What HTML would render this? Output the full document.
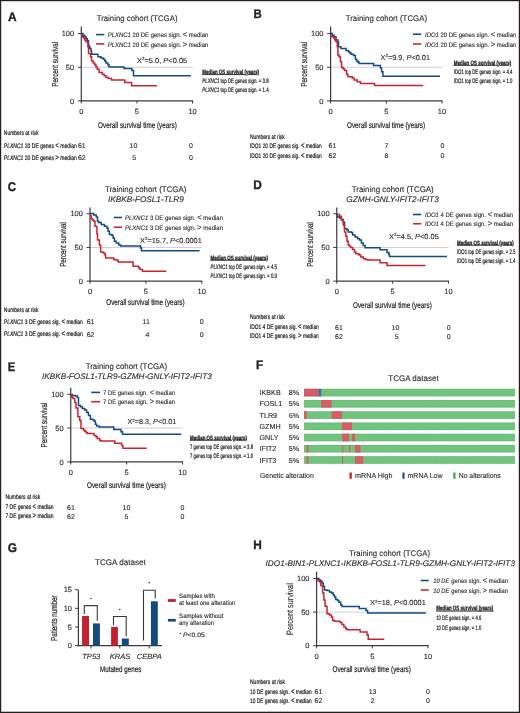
<!DOCTYPE html>
<html><head><meta charset="utf-8"><style>
html,body{margin:0;padding:0;background:#fff;}
body{width:520px;height:713px;overflow:hidden;}
svg{display:block;font-family:"Liberation Sans",sans-serif;will-change:transform;text-rendering:geometricPrecision;filter:blur(0.3px);}
</style></head><body>
<svg width="520" height="713" viewBox="0 0 520 713" fill="#231f20">
<defs><pattern id="stri" x="304" y="0" width="1.72" height="10" patternUnits="userSpaceOnUse"><rect x="0" y="0" width="0.5" height="10" fill="rgba(0,0,0,0.035)"/></pattern></defs>
<rect x="0" y="0" width="520" height="713" fill="#fff"/>
<text transform="translate(8.10 20.50) scale(0.09451 0.10000)" font-size="126.00" font-weight="bold" stroke="#231f20" stroke-width="3.50">A</text>
<text transform="translate(96.70 21.10) scale(0.09516 0.10000)" font-size="82.00" fill="#2b2b2b" stroke="#2b2b2b" stroke-width="1.20">Training cohort (TCGA)</text>
<line x1="81.30" y1="67.25" x2="192.60" y2="67.25" stroke="#cfcfcf" stroke-width="1"/>
<line x1="81.30" y1="26.50" x2="81.30" y2="101.50" stroke="#3a3a3a" stroke-width="1.2"/>
<line x1="77.80" y1="33.60" x2="81.30" y2="33.60" stroke="#3a3a3a" stroke-width="1"/>
<line x1="77.80" y1="67.25" x2="81.30" y2="67.25" stroke="#3a3a3a" stroke-width="1"/>
<line x1="77.80" y1="100.90" x2="81.30" y2="100.90" stroke="#3a3a3a" stroke-width="1"/>
<line x1="80.70" y1="100.90" x2="193.10" y2="100.90" stroke="#3a3a3a" stroke-width="1.3"/>
<line x1="81.30" y1="100.90" x2="81.30" y2="103.50" stroke="#3a3a3a" stroke-width="1"/>
<line x1="136.95" y1="100.90" x2="136.95" y2="103.50" stroke="#3a3a3a" stroke-width="1"/>
<line x1="192.60" y1="100.90" x2="192.60" y2="103.50" stroke="#3a3a3a" stroke-width="1"/>
<text transform="translate(74.20 36.20) scale(0.10000 0.10000)" font-size="75.00" text-anchor="end" fill="#2b2b2b" stroke="#2b2b2b" stroke-width="1.20">100</text>
<text transform="translate(74.20 69.85) scale(0.10000 0.10000)" font-size="75.00" text-anchor="end" fill="#2b2b2b" stroke="#2b2b2b" stroke-width="1.20">50</text>
<text transform="translate(74.20 103.50) scale(0.10000 0.10000)" font-size="75.00" text-anchor="end" fill="#2b2b2b" stroke="#2b2b2b" stroke-width="1.20">0</text>
<text transform="translate(81.30 113.70) scale(0.10000 0.10000)" font-size="75.00" text-anchor="middle" fill="#2b2b2b" stroke="#2b2b2b" stroke-width="1.20">0</text>
<text transform="translate(136.95 113.70) scale(0.10000 0.10000)" font-size="75.00" text-anchor="middle" fill="#2b2b2b" stroke="#2b2b2b" stroke-width="1.20">5</text>
<text transform="translate(192.60 113.70) scale(0.10000 0.10000)" font-size="75.00" text-anchor="middle" fill="#2b2b2b" stroke="#2b2b2b" stroke-width="1.20">10</text>
<text transform="translate(57.50 64.25) rotate(-90) scale(0.07239 0.10000)" font-size="87.00" text-anchor="middle" stroke="#231f20" stroke-width="2.20">Percent survival</text>
<line x1="96.10" y1="34.60" x2="104.30" y2="34.60" stroke="#134b84" stroke-width="1.6"/>
<line x1="96.10" y1="43.90" x2="104.30" y2="43.90" stroke="#c92333" stroke-width="1.6"/>
<text transform="translate(107.80 37.20) scale(0.09142 0.10000)" font-size="65.00" fill="#2b2b2b" stroke="#2b2b2b" stroke-width="1.20"><tspan font-style="italic">PLXNC1</tspan> 20 DE genes sign. <tspan font-size="82.00">&lt;</tspan> median</text>
<text transform="translate(107.80 46.50) scale(0.09142 0.10000)" font-size="65.00" fill="#2b2b2b" stroke="#2b2b2b" stroke-width="1.20"><tspan font-style="italic">PLXNC1</tspan> 20 DE genes sign. <tspan font-size="82.00">&gt;</tspan> median</text>
<text transform="translate(136.90 62.75) scale(0.10096 0.10000)" font-size="74.00" fill="#2b2b2b" stroke="#2b2b2b" stroke-width="1.20">X<tspan font-size="45.00" dy="-26.00">2</tspan><tspan dy="26.00">=5.0, </tspan><tspan font-style="italic">P</tspan>&lt;0.05</text>
<path d="M81.25 33.60H83.00V35.17H84.75V36.75H86.00V38.62H87.25V40.50H88.50V46.10H89.75V48.60H91.00V51.10H91.60V54.25H96.00V54.25H97.90V56.75H101.00V58.00H103.50V59.25H104.75V61.12H106.00V63.00H107.90V64.90H109.10V67.10H123.50V67.10H124.10V68.60H129.75V68.60H131.90V70.50H133.50V75.75H190.90" fill="none" stroke="#134b84" stroke-width="1.5" stroke-linejoin="miter"/>
<path d="M81.25 35.50H82.38V36.75H83.50V38.00H84.75V39.88H86.00V41.75H87.90V46.75H88.50V53.60H90.40V56.75H91.60V61.10H93.17V63.00H94.75V64.90H96.00V67.08H97.25V69.25H99.10V72.40H102.25V74.25H104.12V75.83H106.00V77.40H108.50V78.60H111.60V79.90H124.10V79.90H124.75V82.60H131.00V82.60H131.60V85.75H156.90" fill="none" stroke="#c92333" stroke-width="1.5" stroke-linejoin="miter"/>
<text transform="translate(202.30 73.90) scale(0.07053 0.10000)" font-size="63.00" font-weight="bold" text-decoration="underline" stroke="#231f20" stroke-width="3.00">Median OS survival (years)</text>
<text transform="translate(202.30 83.40) scale(0.06849 0.10000)" font-size="64.00" stroke="#231f20" stroke-width="2.20"><tspan font-style="italic">PLXNC1</tspan> top DE genes sign. = 3.8</text>
<text transform="translate(202.30 92.30) scale(0.06849 0.10000)" font-size="64.00" stroke="#231f20" stroke-width="2.20"><tspan font-style="italic">PLXNC1</tspan> top DE genes sign. = 1.4</text>
<text transform="translate(98.05 127.80) scale(0.07561 0.10000)" font-size="84.00" stroke="#231f20" stroke-width="2.20">Overall survival time (years)</text>
<text transform="translate(3.85 135.00) scale(0.07487 0.10000)" font-size="66.00" stroke="#231f20" stroke-width="2.20">Numbers at risk</text>
<text transform="translate(3.85 147.50) scale(0.07622 0.10000)" font-size="66.00" stroke="#231f20" stroke-width="2.20"><tspan font-style="italic">PLXNC1</tspan> 20 DE genes <tspan font-size="82.00">&lt;</tspan> median</text>
<text transform="translate(3.85 160.00) scale(0.07622 0.10000)" font-size="66.00" stroke="#231f20" stroke-width="2.20"><tspan font-style="italic">PLXNC1</tspan> 20 DE genes <tspan font-size="82.00">&gt;</tspan> median</text>
<text transform="translate(81.80 148.10) scale(0.10000 0.10000)" font-size="70.00" text-anchor="middle" fill="#2b2b2b" stroke="#2b2b2b" stroke-width="1.20">61</text>
<text transform="translate(81.80 160.00) scale(0.10000 0.10000)" font-size="70.00" text-anchor="middle" fill="#2b2b2b" stroke="#2b2b2b" stroke-width="1.20">62</text>
<text transform="translate(133.40 148.10) scale(0.10000 0.10000)" font-size="70.00" text-anchor="middle" fill="#2b2b2b" stroke="#2b2b2b" stroke-width="1.20">10</text>
<text transform="translate(134.10 160.00) scale(0.10000 0.10000)" font-size="70.00" text-anchor="middle" fill="#2b2b2b" stroke="#2b2b2b" stroke-width="1.20">5</text>
<text transform="translate(191.00 148.10) scale(0.10000 0.10000)" font-size="70.00" text-anchor="middle" fill="#2b2b2b" stroke="#2b2b2b" stroke-width="1.20">0</text>
<text transform="translate(191.00 160.00) scale(0.10000 0.10000)" font-size="70.00" text-anchor="middle" fill="#2b2b2b" stroke="#2b2b2b" stroke-width="1.20">0</text>
<text transform="translate(253.60 18.20) scale(0.09121 0.10000)" font-size="126.00" font-weight="bold" stroke="#231f20" stroke-width="3.50">B</text>
<text transform="translate(345.75 21.10) scale(0.09569 0.10000)" font-size="82.00" fill="#2b2b2b" stroke="#2b2b2b" stroke-width="1.20">Training cohort (TCGA)</text>
<line x1="330.60" y1="67.25" x2="442.00" y2="67.25" stroke="#cfcfcf" stroke-width="1"/>
<line x1="330.60" y1="26.50" x2="330.60" y2="101.50" stroke="#3a3a3a" stroke-width="1.2"/>
<line x1="327.10" y1="33.60" x2="330.60" y2="33.60" stroke="#3a3a3a" stroke-width="1"/>
<line x1="327.10" y1="67.25" x2="330.60" y2="67.25" stroke="#3a3a3a" stroke-width="1"/>
<line x1="327.10" y1="100.90" x2="330.60" y2="100.90" stroke="#3a3a3a" stroke-width="1"/>
<line x1="330.00" y1="100.90" x2="442.50" y2="100.90" stroke="#3a3a3a" stroke-width="1.3"/>
<line x1="330.60" y1="100.90" x2="330.60" y2="103.50" stroke="#3a3a3a" stroke-width="1"/>
<line x1="386.30" y1="100.90" x2="386.30" y2="103.50" stroke="#3a3a3a" stroke-width="1"/>
<line x1="442.00" y1="100.90" x2="442.00" y2="103.50" stroke="#3a3a3a" stroke-width="1"/>
<text transform="translate(323.50 36.20) scale(0.10000 0.10000)" font-size="75.00" text-anchor="end" fill="#2b2b2b" stroke="#2b2b2b" stroke-width="1.20">100</text>
<text transform="translate(323.50 69.85) scale(0.10000 0.10000)" font-size="75.00" text-anchor="end" fill="#2b2b2b" stroke="#2b2b2b" stroke-width="1.20">50</text>
<text transform="translate(323.50 103.50) scale(0.10000 0.10000)" font-size="75.00" text-anchor="end" fill="#2b2b2b" stroke="#2b2b2b" stroke-width="1.20">0</text>
<text transform="translate(330.60 113.70) scale(0.10000 0.10000)" font-size="75.00" text-anchor="middle" fill="#2b2b2b" stroke="#2b2b2b" stroke-width="1.20">0</text>
<text transform="translate(386.30 113.70) scale(0.10000 0.10000)" font-size="75.00" text-anchor="middle" fill="#2b2b2b" stroke="#2b2b2b" stroke-width="1.20">5</text>
<text transform="translate(442.00 113.70) scale(0.10000 0.10000)" font-size="75.00" text-anchor="middle" fill="#2b2b2b" stroke="#2b2b2b" stroke-width="1.20">10</text>
<text transform="translate(306.75 64.25) rotate(-90) scale(0.07239 0.10000)" font-size="87.00" text-anchor="middle" stroke="#231f20" stroke-width="2.20">Percent survival</text>
<line x1="413.00" y1="34.25" x2="421.25" y2="34.25" stroke="#134b84" stroke-width="1.6"/>
<line x1="413.00" y1="44.00" x2="421.25" y2="44.00" stroke="#c92333" stroke-width="1.6"/>
<text transform="translate(425.00 36.85) scale(0.09142 0.10000)" font-size="65.00" fill="#2b2b2b" stroke="#2b2b2b" stroke-width="1.20"><tspan font-style="italic">IDO1</tspan> 20 DE genes sign. <tspan font-size="82.00">&lt;</tspan> median</text>
<text transform="translate(425.00 46.60) scale(0.09142 0.10000)" font-size="65.00" fill="#2b2b2b" stroke="#2b2b2b" stroke-width="1.20"><tspan font-style="italic">IDO1</tspan> 20 DE genes sign. <tspan font-size="82.00">&gt;</tspan> median</text>
<text transform="translate(380.50 59.60) scale(0.09935 0.10000)" font-size="74.00" fill="#2b2b2b" stroke="#2b2b2b" stroke-width="1.20">X<tspan font-size="45.00" dy="-26.00">2</tspan><tspan dy="26.00">=9.9, </tspan><tspan font-style="italic">P</tspan>&lt;0.01</text>
<path d="M330.60 33.60H332.35V35.17H334.10V36.75H336.00V39.90H337.90V41.75H338.50V46.75H341.00V48.60H344.75V48.60H346.00V50.50H348.50V51.75H349.75V53.00H351.00V54.25H353.50V55.50H355.40V59.25H356.60V61.10H357.85V62.25H359.10V63.40H372.90V63.40H373.50V65.50H379.50V65.50H380.40V68.00H381.60V71.75H382.90V76.30H440.00" fill="none" stroke="#134b84" stroke-width="1.5" stroke-linejoin="miter"/>
<path d="M330.60 35.50H332.05V36.75H333.50V38.00H334.75V39.88H336.00V41.75H337.25V46.75H337.90V54.90H339.10V56.75H340.40V61.75H341.60V67.40H343.18V68.95H344.75V70.50H346.60V74.25H347.90V76.75H352.25V78.00H354.10V79.90H357.25V81.75H360.40V83.40H374.10V83.40H374.50V85.50H423.25" fill="none" stroke="#c92333" stroke-width="1.5" stroke-linejoin="miter"/>
<text transform="translate(453.75 64.70) scale(0.07140 0.10000)" font-size="63.00" font-weight="bold" text-decoration="underline" stroke="#231f20" stroke-width="3.00">Median OS survival (years)</text>
<text transform="translate(453.75 74.40) scale(0.06754 0.10000)" font-size="64.00" stroke="#231f20" stroke-width="2.20">IDO1 top DE genes sign. = 4.4</text>
<text transform="translate(453.75 83.40) scale(0.06754 0.10000)" font-size="64.00" stroke="#231f20" stroke-width="2.20">IDO1 top DE genes sign. = 1.0</text>
<text transform="translate(347.00 127.80) scale(0.07494 0.10000)" font-size="84.00" stroke="#231f20" stroke-width="2.20">Overall survival time (years)</text>
<text transform="translate(250.00 138.60) scale(0.07531 0.10000)" font-size="66.00" stroke="#231f20" stroke-width="2.20">Numbers at risk</text>
<text transform="translate(250.00 148.20) scale(0.07346 0.10000)" font-size="66.00" stroke="#231f20" stroke-width="2.20">IDO1 20 DE genes sig. <tspan font-size="82.00">&lt;</tspan> median</text>
<text transform="translate(250.00 157.80) scale(0.07346 0.10000)" font-size="66.00" stroke="#231f20" stroke-width="2.20">IDO1 20 DE genes sig. <tspan font-size="82.00">&lt;</tspan> median</text>
<text transform="translate(332.50 148.20) scale(0.10000 0.10000)" font-size="70.00" text-anchor="middle" fill="#2b2b2b" stroke="#2b2b2b" stroke-width="1.20">61</text>
<text transform="translate(332.50 157.80) scale(0.10000 0.10000)" font-size="70.00" text-anchor="middle" fill="#2b2b2b" stroke="#2b2b2b" stroke-width="1.20">62</text>
<text transform="translate(386.40 148.20) scale(0.10000 0.10000)" font-size="70.00" text-anchor="middle" fill="#2b2b2b" stroke="#2b2b2b" stroke-width="1.20">7</text>
<text transform="translate(386.40 157.80) scale(0.10000 0.10000)" font-size="70.00" text-anchor="middle" fill="#2b2b2b" stroke="#2b2b2b" stroke-width="1.20">8</text>
<text transform="translate(442.50 148.20) scale(0.10000 0.10000)" font-size="70.00" text-anchor="middle" fill="#2b2b2b" stroke="#2b2b2b" stroke-width="1.20">0</text>
<text transform="translate(442.50 157.80) scale(0.10000 0.10000)" font-size="70.00" text-anchor="middle" fill="#2b2b2b" stroke="#2b2b2b" stroke-width="1.20">0</text>
<text transform="translate(7.80 190.60) scale(0.09121 0.10000)" font-size="126.00" font-weight="bold" stroke="#231f20" stroke-width="3.50">C</text>
<text transform="translate(105.00 191.60) scale(0.09569 0.10000)" font-size="82.00" fill="#2b2b2b" stroke="#2b2b2b" stroke-width="1.20">Training cohort (TCGA)</text>
<text transform="translate(108.00 201.60) scale(0.10014 0.10000)" font-size="82.00" font-style="italic" fill="#2b2b2b" stroke="#2b2b2b" stroke-width="1.20">IKBKB-FOSL1-TLR9</text>
<line x1="90.00" y1="247.43" x2="201.75" y2="247.43" stroke="#cfcfcf" stroke-width="1"/>
<line x1="90.00" y1="207.50" x2="90.00" y2="281.70" stroke="#3a3a3a" stroke-width="1.2"/>
<line x1="86.50" y1="213.75" x2="90.00" y2="213.75" stroke="#3a3a3a" stroke-width="1"/>
<line x1="86.50" y1="247.43" x2="90.00" y2="247.43" stroke="#3a3a3a" stroke-width="1"/>
<line x1="86.50" y1="281.10" x2="90.00" y2="281.10" stroke="#3a3a3a" stroke-width="1"/>
<line x1="89.40" y1="281.10" x2="202.25" y2="281.10" stroke="#3a3a3a" stroke-width="1.3"/>
<line x1="90.00" y1="281.10" x2="90.00" y2="283.70" stroke="#3a3a3a" stroke-width="1"/>
<line x1="145.88" y1="281.10" x2="145.88" y2="283.70" stroke="#3a3a3a" stroke-width="1"/>
<line x1="201.75" y1="281.10" x2="201.75" y2="283.70" stroke="#3a3a3a" stroke-width="1"/>
<text transform="translate(82.90 216.35) scale(0.10000 0.10000)" font-size="75.00" text-anchor="end" fill="#2b2b2b" stroke="#2b2b2b" stroke-width="1.20">100</text>
<text transform="translate(82.90 250.03) scale(0.10000 0.10000)" font-size="75.00" text-anchor="end" fill="#2b2b2b" stroke="#2b2b2b" stroke-width="1.20">50</text>
<text transform="translate(82.90 283.70) scale(0.10000 0.10000)" font-size="75.00" text-anchor="end" fill="#2b2b2b" stroke="#2b2b2b" stroke-width="1.20">0</text>
<text transform="translate(90.00 293.90) scale(0.10000 0.10000)" font-size="75.00" text-anchor="middle" fill="#2b2b2b" stroke="#2b2b2b" stroke-width="1.20">0</text>
<text transform="translate(145.88 293.90) scale(0.10000 0.10000)" font-size="75.00" text-anchor="middle" fill="#2b2b2b" stroke="#2b2b2b" stroke-width="1.20">5</text>
<text transform="translate(201.75 293.90) scale(0.10000 0.10000)" font-size="75.00" text-anchor="middle" fill="#2b2b2b" stroke="#2b2b2b" stroke-width="1.20">10</text>
<text transform="translate(66.00 244.43) rotate(-90) scale(0.07239 0.10000)" font-size="87.00" text-anchor="middle" stroke="#231f20" stroke-width="2.20">Percent survival</text>
<line x1="113.75" y1="217.50" x2="122.00" y2="217.50" stroke="#134b84" stroke-width="1.6"/>
<line x1="113.75" y1="227.25" x2="122.00" y2="227.25" stroke="#c92333" stroke-width="1.6"/>
<text transform="translate(125.00 220.10) scale(0.09218 0.10000)" font-size="65.00" fill="#2b2b2b" stroke="#2b2b2b" stroke-width="1.20"><tspan font-style="italic">PLXNC1</tspan> 3 DE genes sign. <tspan font-size="82.00">&lt;</tspan> median</text>
<text transform="translate(125.00 229.85) scale(0.09218 0.10000)" font-size="65.00" fill="#2b2b2b" stroke="#2b2b2b" stroke-width="1.20"><tspan font-style="italic">PLXNC1</tspan> 3 DE genes sign. <tspan font-size="82.00">&gt;</tspan> median</text>
<text transform="translate(140.00 242.50) scale(0.09933 0.10000)" font-size="74.00" fill="#2b2b2b" stroke="#2b2b2b" stroke-width="1.20">X<tspan font-size="45.00" dy="-26.00">2</tspan><tspan dy="26.00">=15.7, </tspan><tspan font-style="italic">P</tspan>&lt;0.0001</text>
<path d="M90.00 213.50H93.75V215.00H96.25V216.90H97.50V221.25H98.75V222.50H101.25V224.40H104.40V226.25H106.90V228.10H108.10V231.25H109.40V234.40H111.90V235.60H113.10V238.10H114.40V241.25H116.25V243.10H118.75V245.00H120.60V246.00H140.00V246.00H140.60V248.10H141.50V250.75H199.50" fill="none" stroke="#134b84" stroke-width="1.5" stroke-linejoin="miter"/>
<path d="M90.00 215.60H91.25V218.75H92.50V220.00H93.75V221.25H95.00V226.25H96.90V233.75H97.50V240.00H99.40V245.00H100.60V251.90H103.10V253.10H105.00V255.00H105.60V258.10H111.25V258.10H113.75V259.40H115.60V260.00H118.10V261.90H131.90V261.90H133.10V266.25H136.25V266.25H138.75V268.10H140.00V269.40H142.50V271.25H166.25" fill="none" stroke="#c92333" stroke-width="1.5" stroke-linejoin="miter"/>
<text transform="translate(210.50 259.50) scale(0.07140 0.10000)" font-size="63.00" font-weight="bold" text-decoration="underline" stroke="#231f20" stroke-width="3.00">Median OS survival (years)</text>
<text transform="translate(210.50 268.50) scale(0.06859 0.10000)" font-size="64.00" stroke="#231f20" stroke-width="2.20"><tspan font-style="italic">PLXNC1</tspan> top DE genes sign. = 4.5</text>
<text transform="translate(210.50 277.80) scale(0.06859 0.10000)" font-size="64.00" stroke="#231f20" stroke-width="2.20"><tspan font-style="italic">PLXNC1</tspan> top DE genes sign. = 0.9</text>
<text transform="translate(106.25 304.50) scale(0.07518 0.10000)" font-size="84.00" stroke="#231f20" stroke-width="2.20">Overall survival time (years)</text>
<text transform="translate(3.85 312.30) scale(0.07487 0.10000)" font-size="66.00" stroke="#231f20" stroke-width="2.20">Numbers at risk</text>
<text transform="translate(3.85 323.90) scale(0.07581 0.10000)" font-size="66.00" stroke="#231f20" stroke-width="2.20"><tspan font-style="italic">PLXNC1</tspan> 3 DE genes sig. <tspan font-size="82.00">&lt;</tspan> median</text>
<text transform="translate(3.85 336.10) scale(0.07581 0.10000)" font-size="66.00" stroke="#231f20" stroke-width="2.20"><tspan font-style="italic">PLXNC1</tspan> 3 DE genes sig. <tspan font-size="82.00">&lt;</tspan> median</text>
<text transform="translate(90.60 324.00) scale(0.10000 0.10000)" font-size="70.00" text-anchor="middle" fill="#2b2b2b" stroke="#2b2b2b" stroke-width="1.20">61</text>
<text transform="translate(90.60 337.00) scale(0.10000 0.10000)" font-size="70.00" text-anchor="middle" fill="#2b2b2b" stroke="#2b2b2b" stroke-width="1.20">62</text>
<text transform="translate(146.25 324.00) scale(0.10000 0.10000)" font-size="70.00" text-anchor="middle" fill="#2b2b2b" stroke="#2b2b2b" stroke-width="1.20">11</text>
<text transform="translate(147.50 337.00) scale(0.10000 0.10000)" font-size="70.00" text-anchor="middle" fill="#2b2b2b" stroke="#2b2b2b" stroke-width="1.20">4</text>
<text transform="translate(201.75 324.00) scale(0.10000 0.10000)" font-size="70.00" text-anchor="middle" fill="#2b2b2b" stroke="#2b2b2b" stroke-width="1.20">0</text>
<text transform="translate(201.75 337.00) scale(0.10000 0.10000)" font-size="70.00" text-anchor="middle" fill="#2b2b2b" stroke="#2b2b2b" stroke-width="1.20">0</text>
<text transform="translate(253.30 188.70) scale(0.09451 0.10000)" font-size="126.00" font-weight="bold" stroke="#231f20" stroke-width="3.50">D</text>
<text transform="translate(351.75 191.60) scale(0.09658 0.10000)" font-size="82.00" fill="#2b2b2b" stroke="#2b2b2b" stroke-width="1.20">Training cohort (TCGA)</text>
<text transform="translate(346.25 201.60) scale(0.10102 0.10000)" font-size="82.00" font-style="italic" fill="#2b2b2b" stroke="#2b2b2b" stroke-width="1.20">GZMH-GNLY-IFIT2-IFIT3</text>
<line x1="336.75" y1="247.43" x2="448.50" y2="247.43" stroke="#cfcfcf" stroke-width="1"/>
<line x1="336.75" y1="207.50" x2="336.75" y2="281.70" stroke="#3a3a3a" stroke-width="1.2"/>
<line x1="333.25" y1="213.75" x2="336.75" y2="213.75" stroke="#3a3a3a" stroke-width="1"/>
<line x1="333.25" y1="247.43" x2="336.75" y2="247.43" stroke="#3a3a3a" stroke-width="1"/>
<line x1="333.25" y1="281.10" x2="336.75" y2="281.10" stroke="#3a3a3a" stroke-width="1"/>
<line x1="336.15" y1="281.10" x2="449.00" y2="281.10" stroke="#3a3a3a" stroke-width="1.3"/>
<line x1="336.75" y1="281.10" x2="336.75" y2="283.70" stroke="#3a3a3a" stroke-width="1"/>
<line x1="392.62" y1="281.10" x2="392.62" y2="283.70" stroke="#3a3a3a" stroke-width="1"/>
<line x1="448.50" y1="281.10" x2="448.50" y2="283.70" stroke="#3a3a3a" stroke-width="1"/>
<text transform="translate(329.65 216.35) scale(0.10000 0.10000)" font-size="75.00" text-anchor="end" fill="#2b2b2b" stroke="#2b2b2b" stroke-width="1.20">100</text>
<text transform="translate(329.65 250.03) scale(0.10000 0.10000)" font-size="75.00" text-anchor="end" fill="#2b2b2b" stroke="#2b2b2b" stroke-width="1.20">50</text>
<text transform="translate(329.65 283.70) scale(0.10000 0.10000)" font-size="75.00" text-anchor="end" fill="#2b2b2b" stroke="#2b2b2b" stroke-width="1.20">0</text>
<text transform="translate(336.75 293.90) scale(0.10000 0.10000)" font-size="75.00" text-anchor="middle" fill="#2b2b2b" stroke="#2b2b2b" stroke-width="1.20">0</text>
<text transform="translate(392.62 293.90) scale(0.10000 0.10000)" font-size="75.00" text-anchor="middle" fill="#2b2b2b" stroke="#2b2b2b" stroke-width="1.20">5</text>
<text transform="translate(448.50 293.90) scale(0.10000 0.10000)" font-size="75.00" text-anchor="middle" fill="#2b2b2b" stroke="#2b2b2b" stroke-width="1.20">10</text>
<text transform="translate(313.00 244.43) rotate(-90) scale(0.07239 0.10000)" font-size="87.00" text-anchor="middle" stroke="#231f20" stroke-width="2.20">Percent survival</text>
<line x1="413.00" y1="214.50" x2="421.25" y2="214.50" stroke="#134b84" stroke-width="1.6"/>
<line x1="413.00" y1="223.75" x2="421.25" y2="223.75" stroke="#c92333" stroke-width="1.6"/>
<text transform="translate(425.00 217.10) scale(0.09174 0.10000)" font-size="65.00" fill="#2b2b2b" stroke="#2b2b2b" stroke-width="1.20"><tspan font-style="italic">IDO1</tspan> 4 DE genes sign. <tspan font-size="82.00">&lt;</tspan> median</text>
<text transform="translate(425.00 226.35) scale(0.09174 0.10000)" font-size="65.00" fill="#2b2b2b" stroke="#2b2b2b" stroke-width="1.20"><tspan font-style="italic">IDO1</tspan> 4 DE genes sign. <tspan font-size="82.00">&gt;</tspan> median</text>
<text transform="translate(389.00 238.70) scale(0.09986 0.10000)" font-size="74.00" fill="#2b2b2b" stroke="#2b2b2b" stroke-width="1.20">X<tspan font-size="45.00" dy="-26.00">2</tspan><tspan dy="26.00">=4.5, </tspan><tspan font-style="italic">P</tspan>&lt;0.05</text>
<path d="M336.75 213.75H337.00V216.90H339.50V218.10H341.40V219.40H343.25V221.90H344.50V228.75H347.00V230.00H348.25V231.90H351.40V232.50H352.60V235.00H355.10V236.90H357.60V238.75H359.50V240.00H361.40V243.10H363.25V245.60H365.10V247.75H378.90V247.75H380.10V249.75H385.75V249.75H387.00V252.50H388.90V254.40H389.50V256.60H447.00" fill="none" stroke="#134b84" stroke-width="1.5" stroke-linejoin="miter"/>
<path d="M336.75 214.50H339.50V216.25H341.40V220.00H343.25V225.00H344.50V231.90H345.75V236.25H347.00V241.25H348.25V245.00H349.50V246.25H350.75V247.50H352.60V249.40H354.50V251.90H355.75V253.75H358.90V255.00H360.75V256.90H363.25V258.75H365.75V259.40H367.60V260.00H379.50V260.00H380.10V262.75H386.40V262.75H387.00V265.60H425.50" fill="none" stroke="#c92333" stroke-width="1.5" stroke-linejoin="miter"/>
<text transform="translate(457.00 244.50) scale(0.07047 0.10000)" font-size="63.00" font-weight="bold" text-decoration="underline" stroke="#231f20" stroke-width="3.00">Median OS survival (years)</text>
<text transform="translate(457.00 254.00) scale(0.06725 0.10000)" font-size="64.00" stroke="#231f20" stroke-width="2.20">IDO1 top DE genes sign. = 2.5</text>
<text transform="translate(457.00 263.20) scale(0.06725 0.10000)" font-size="64.00" stroke="#231f20" stroke-width="2.20">IDO1 top DE genes sign. = 1.4</text>
<text transform="translate(353.00 307.70) scale(0.07566 0.10000)" font-size="84.00" stroke="#231f20" stroke-width="2.20">Overall survival time (years)</text>
<text transform="translate(250.00 319.20) scale(0.07531 0.10000)" font-size="66.00" stroke="#231f20" stroke-width="2.20">Numbers at risk</text>
<text transform="translate(250.00 329.00) scale(0.07319 0.10000)" font-size="66.00" stroke="#231f20" stroke-width="2.20">IDO1 4 DE genes sig. <tspan font-size="82.00">&lt;</tspan> median</text>
<text transform="translate(250.00 338.00) scale(0.07319 0.10000)" font-size="66.00" stroke="#231f20" stroke-width="2.20">IDO1 4 DE genes sig. <tspan font-size="82.00">&gt;</tspan> median</text>
<text transform="translate(339.00 329.50) scale(0.10000 0.10000)" font-size="70.00" text-anchor="middle" fill="#2b2b2b" stroke="#2b2b2b" stroke-width="1.20">61</text>
<text transform="translate(339.00 338.50) scale(0.10000 0.10000)" font-size="70.00" text-anchor="middle" fill="#2b2b2b" stroke="#2b2b2b" stroke-width="1.20">62</text>
<text transform="translate(395.50 329.50) scale(0.10000 0.10000)" font-size="70.00" text-anchor="middle" fill="#2b2b2b" stroke="#2b2b2b" stroke-width="1.20">10</text>
<text transform="translate(396.75 338.50) scale(0.10000 0.10000)" font-size="70.00" text-anchor="middle" fill="#2b2b2b" stroke="#2b2b2b" stroke-width="1.20">5</text>
<text transform="translate(448.75 329.50) scale(0.10000 0.10000)" font-size="70.00" text-anchor="middle" fill="#2b2b2b" stroke="#2b2b2b" stroke-width="1.20">0</text>
<text transform="translate(448.75 338.50) scale(0.10000 0.10000)" font-size="70.00" text-anchor="middle" fill="#2b2b2b" stroke="#2b2b2b" stroke-width="1.20">0</text>
<text transform="translate(7.80 371.10) scale(0.08805 0.10000)" font-size="126.00" font-weight="bold" stroke="#231f20" stroke-width="3.50">E</text>
<text transform="translate(85.75 369.00) scale(0.09569 0.10000)" font-size="82.00" fill="#2b2b2b" stroke="#2b2b2b" stroke-width="1.20">Training cohort (TCGA)</text>
<text transform="translate(42.00 379.30) scale(0.09988 0.10000)" font-size="82.00" font-style="italic" fill="#2b2b2b" stroke="#2b2b2b" stroke-width="1.20">IKBKB-FOSL1-TLR9-GZMH-GNLY-IFIT2-IFIT3</text>
<line x1="70.75" y1="428.07" x2="182.50" y2="428.07" stroke="#cfcfcf" stroke-width="1"/>
<line x1="70.75" y1="387.75" x2="70.75" y2="462.50" stroke="#3a3a3a" stroke-width="1.2"/>
<line x1="67.25" y1="394.25" x2="70.75" y2="394.25" stroke="#3a3a3a" stroke-width="1"/>
<line x1="67.25" y1="428.07" x2="70.75" y2="428.07" stroke="#3a3a3a" stroke-width="1"/>
<line x1="67.25" y1="461.90" x2="70.75" y2="461.90" stroke="#3a3a3a" stroke-width="1"/>
<line x1="70.15" y1="461.90" x2="183.00" y2="461.90" stroke="#3a3a3a" stroke-width="1.3"/>
<line x1="70.75" y1="461.90" x2="70.75" y2="464.50" stroke="#3a3a3a" stroke-width="1"/>
<line x1="126.62" y1="461.90" x2="126.62" y2="464.50" stroke="#3a3a3a" stroke-width="1"/>
<line x1="182.50" y1="461.90" x2="182.50" y2="464.50" stroke="#3a3a3a" stroke-width="1"/>
<text transform="translate(63.65 396.85) scale(0.10000 0.10000)" font-size="75.00" text-anchor="end" fill="#2b2b2b" stroke="#2b2b2b" stroke-width="1.20">100</text>
<text transform="translate(63.65 430.68) scale(0.10000 0.10000)" font-size="75.00" text-anchor="end" fill="#2b2b2b" stroke="#2b2b2b" stroke-width="1.20">50</text>
<text transform="translate(63.65 464.50) scale(0.10000 0.10000)" font-size="75.00" text-anchor="end" fill="#2b2b2b" stroke="#2b2b2b" stroke-width="1.20">0</text>
<text transform="translate(70.75 474.70) scale(0.10000 0.10000)" font-size="75.00" text-anchor="middle" fill="#2b2b2b" stroke="#2b2b2b" stroke-width="1.20">0</text>
<text transform="translate(126.62 474.70) scale(0.10000 0.10000)" font-size="75.00" text-anchor="middle" fill="#2b2b2b" stroke="#2b2b2b" stroke-width="1.20">5</text>
<text transform="translate(182.50 474.70) scale(0.10000 0.10000)" font-size="75.00" text-anchor="middle" fill="#2b2b2b" stroke="#2b2b2b" stroke-width="1.20">10</text>
<text transform="translate(46.75 425.07) rotate(-90) scale(0.07239 0.10000)" font-size="87.00" text-anchor="middle" stroke="#231f20" stroke-width="2.20">Percent survival</text>
<line x1="91.25" y1="392.40" x2="100.00" y2="392.40" stroke="#134b84" stroke-width="1.6"/>
<line x1="91.25" y1="401.70" x2="100.00" y2="401.70" stroke="#c92333" stroke-width="1.6"/>
<text transform="translate(103.00 395.00) scale(0.09088 0.10000)" font-size="65.00" fill="#2b2b2b" stroke="#2b2b2b" stroke-width="1.20">7 DE genes sign. <tspan font-size="82.00">&lt;</tspan> median</text>
<text transform="translate(103.00 404.30) scale(0.09088 0.10000)" font-size="65.00" fill="#2b2b2b" stroke="#2b2b2b" stroke-width="1.20">7 DE genes sign. <tspan font-size="82.00">&gt;</tspan> median</text>
<text transform="translate(127.50 424.20) scale(0.09785 0.10000)" font-size="74.00" fill="#2b2b2b" stroke="#2b2b2b" stroke-width="1.20">X<tspan font-size="45.00" dy="-26.00">2</tspan><tspan dy="26.00">=8.3, </tspan><tspan font-style="italic">P</tspan>&lt;0.01</text>
<path d="M70.75 394.50H72.25V395.50H75.40V396.10H77.25V397.40H78.50V405.50H80.40V406.75H82.25V408.60H84.75V409.90H86.60V412.40H88.50V415.50H90.40V419.25H92.90V419.90H94.10V421.10H95.40V424.25H96.60V425.90H99.10V427.00H113.25V427.00H113.75V429.50H119.75V429.50H121.00V431.75H122.50V434.25H181.25" fill="none" stroke="#134b84" stroke-width="1.5" stroke-linejoin="miter"/>
<path d="M70.75 395.50H71.83V397.05H72.90V398.60H74.75V402.40H76.00V408.00H77.90V416.75H79.75V420.50H81.00V428.60H83.50V429.90H84.75V431.15H86.00V432.40H87.25V433.60H92.25V433.60H94.10V435.50H96.00V436.75H97.25V438.60H99.75V440.50H101.00V441.10H114.10V441.10H114.75V443.25H120.40V443.25H121.60V445.50H122.90V448.25H146.75" fill="none" stroke="#c92333" stroke-width="1.5" stroke-linejoin="miter"/>
<text transform="translate(190.00 439.50) scale(0.07078 0.10000)" font-size="63.00" font-weight="bold" text-decoration="underline" stroke="#231f20" stroke-width="3.00">Median OS survival (years)</text>
<text transform="translate(190.00 448.50) scale(0.06644 0.10000)" font-size="64.00" stroke="#231f20" stroke-width="2.20">7 genes top DE genes sign. = 3.8</text>
<text transform="translate(190.00 458.20) scale(0.06644 0.10000)" font-size="64.00" stroke="#231f20" stroke-width="2.20">7 genes top DE genes sign. = 1.0</text>
<text transform="translate(87.00 488.00) scale(0.07566 0.10000)" font-size="84.00" stroke="#231f20" stroke-width="2.20">Overall survival time (years)</text>
<text transform="translate(5.50 499.00) scale(0.07487 0.10000)" font-size="66.00" stroke="#231f20" stroke-width="2.20">Numbers at risk</text>
<text transform="translate(5.50 509.00) scale(0.07431 0.10000)" font-size="66.00" stroke="#231f20" stroke-width="2.20">7 DE genes <tspan font-size="82.00">&lt;</tspan> median</text>
<text transform="translate(5.50 518.00) scale(0.07431 0.10000)" font-size="66.00" stroke="#231f20" stroke-width="2.20">7 DE genes <tspan font-size="82.00">&gt;</tspan> median</text>
<text transform="translate(71.00 509.50) scale(0.10000 0.10000)" font-size="70.00" text-anchor="middle" fill="#2b2b2b" stroke="#2b2b2b" stroke-width="1.20">61</text>
<text transform="translate(71.00 518.50) scale(0.10000 0.10000)" font-size="70.00" text-anchor="middle" fill="#2b2b2b" stroke="#2b2b2b" stroke-width="1.20">62</text>
<text transform="translate(126.50 509.50) scale(0.10000 0.10000)" font-size="70.00" text-anchor="middle" fill="#2b2b2b" stroke="#2b2b2b" stroke-width="1.20">10</text>
<text transform="translate(126.50 518.50) scale(0.10000 0.10000)" font-size="70.00" text-anchor="middle" fill="#2b2b2b" stroke="#2b2b2b" stroke-width="1.20">5</text>
<text transform="translate(182.50 509.50) scale(0.10000 0.10000)" font-size="70.00" text-anchor="middle" fill="#2b2b2b" stroke="#2b2b2b" stroke-width="1.20">0</text>
<text transform="translate(182.50 518.50) scale(0.10000 0.10000)" font-size="70.00" text-anchor="middle" fill="#2b2b2b" stroke="#2b2b2b" stroke-width="1.20">0</text>
<text transform="translate(256.10 369.10) scale(0.09354 0.10000)" font-size="126.00" font-weight="bold" stroke="#231f20" stroke-width="3.50">F</text>
<text transform="translate(388.25 380.50) scale(0.09805 0.10000)" font-size="82.00" fill="#2b2b2b" stroke="#2b2b2b" stroke-width="1.20">TCGA dataset</text>
<text transform="translate(259.50 395.20) scale(0.10000 0.10000)" font-size="72.00" fill="#2b2b2b" stroke="#2b2b2b" stroke-width="1.20">IKBKB</text>
<text transform="translate(288.75 395.20) scale(0.10090 0.10000)" font-size="72.00" fill="#2b2b2b" stroke="#2b2b2b" stroke-width="1.20">8%</text>
<rect x="304.00" y="388.80" width="211.00" height="7.60" fill="#72c67e"/>
<rect x="304.00" y="388.80" width="14.60" height="7.60" fill="#d85f69"/>
<rect x="318.60" y="388.80" width="2.60" height="7.60" fill="#3c70b4"/>
<rect x="304.00" y="388.80" width="211.00" height="7.60" fill="url(#stri)"/>
<rect x="304.00" y="388.80" width="211.00" height="0.90" fill="rgba(0,0,0,0.05)"/>
<rect x="304.00" y="395.50" width="211.00" height="0.90" fill="rgba(0,0,0,0.05)"/>
<text transform="translate(259.50 406.43) scale(0.10000 0.10000)" font-size="72.00" fill="#2b2b2b" stroke="#2b2b2b" stroke-width="1.20">FOSL1</text>
<text transform="translate(288.75 406.43) scale(0.10090 0.10000)" font-size="72.00" fill="#2b2b2b" stroke="#2b2b2b" stroke-width="1.20">5%</text>
<rect x="304.00" y="400.03" width="211.00" height="7.60" fill="#72c67e"/>
<rect x="321.20" y="400.03" width="10.40" height="7.60" fill="#d85f69"/>
<rect x="304.00" y="400.03" width="211.00" height="7.60" fill="url(#stri)"/>
<rect x="304.00" y="400.03" width="211.00" height="0.90" fill="rgba(0,0,0,0.05)"/>
<rect x="304.00" y="406.73" width="211.00" height="0.90" fill="rgba(0,0,0,0.05)"/>
<text transform="translate(259.50 417.66) scale(0.10000 0.10000)" font-size="72.00" fill="#2b2b2b" stroke="#2b2b2b" stroke-width="1.20">TLR9</text>
<text transform="translate(288.75 417.66) scale(0.10090 0.10000)" font-size="72.00" fill="#2b2b2b" stroke="#2b2b2b" stroke-width="1.20">6%</text>
<rect x="304.00" y="411.26" width="211.00" height="7.60" fill="#72c67e"/>
<rect x="304.00" y="411.26" width="2.80" height="7.60" fill="#d85f69"/>
<rect x="331.60" y="411.26" width="10.40" height="7.60" fill="#d85f69"/>
<rect x="304.00" y="411.26" width="211.00" height="7.60" fill="url(#stri)"/>
<rect x="304.00" y="411.26" width="211.00" height="0.90" fill="rgba(0,0,0,0.05)"/>
<rect x="304.00" y="417.96" width="211.00" height="0.90" fill="rgba(0,0,0,0.05)"/>
<text transform="translate(259.50 428.89) scale(0.10000 0.10000)" font-size="72.00" fill="#2b2b2b" stroke="#2b2b2b" stroke-width="1.20">GZMH</text>
<text transform="translate(288.75 428.89) scale(0.10090 0.10000)" font-size="72.00" fill="#2b2b2b" stroke="#2b2b2b" stroke-width="1.20">5%</text>
<rect x="304.00" y="422.49" width="211.00" height="7.60" fill="#72c67e"/>
<rect x="342.00" y="422.49" width="10.00" height="7.60" fill="#d85f69"/>
<rect x="304.00" y="422.49" width="211.00" height="7.60" fill="url(#stri)"/>
<rect x="304.00" y="422.49" width="211.00" height="0.90" fill="rgba(0,0,0,0.05)"/>
<rect x="304.00" y="429.19" width="211.00" height="0.90" fill="rgba(0,0,0,0.05)"/>
<text transform="translate(259.50 440.12) scale(0.10000 0.10000)" font-size="72.00" fill="#2b2b2b" stroke="#2b2b2b" stroke-width="1.20">GNLY</text>
<text transform="translate(288.75 440.12) scale(0.10090 0.10000)" font-size="72.00" fill="#2b2b2b" stroke="#2b2b2b" stroke-width="1.20">5%</text>
<rect x="304.00" y="433.72" width="211.00" height="7.60" fill="#72c67e"/>
<rect x="342.00" y="433.72" width="7.00" height="7.60" fill="#d85f69"/>
<rect x="352.00" y="433.72" width="3.00" height="7.60" fill="#d85f69"/>
<rect x="304.00" y="433.72" width="211.00" height="7.60" fill="url(#stri)"/>
<rect x="304.00" y="433.72" width="211.00" height="0.90" fill="rgba(0,0,0,0.05)"/>
<rect x="304.00" y="440.42" width="211.00" height="0.90" fill="rgba(0,0,0,0.05)"/>
<text transform="translate(259.50 451.35) scale(0.10000 0.10000)" font-size="72.00" fill="#2b2b2b" stroke="#2b2b2b" stroke-width="1.20">IFIT2</text>
<text transform="translate(288.75 451.35) scale(0.10090 0.10000)" font-size="72.00" fill="#2b2b2b" stroke="#2b2b2b" stroke-width="1.20">5%</text>
<rect x="304.00" y="444.95" width="211.00" height="7.60" fill="#72c67e"/>
<rect x="306.50" y="444.95" width="1.80" height="7.60" fill="#d85f69"/>
<rect x="342.00" y="444.95" width="1.20" height="7.60" fill="#d85f69"/>
<rect x="349.00" y="444.95" width="1.20" height="7.60" fill="#d85f69"/>
<rect x="355.00" y="444.95" width="5.50" height="7.60" fill="#d85f69"/>
<rect x="304.00" y="444.95" width="211.00" height="7.60" fill="url(#stri)"/>
<rect x="304.00" y="444.95" width="211.00" height="0.90" fill="rgba(0,0,0,0.05)"/>
<rect x="304.00" y="451.65" width="211.00" height="0.90" fill="rgba(0,0,0,0.05)"/>
<text transform="translate(259.50 462.58) scale(0.10000 0.10000)" font-size="72.00" fill="#2b2b2b" stroke="#2b2b2b" stroke-width="1.20">IFIT3</text>
<text transform="translate(288.75 462.58) scale(0.10090 0.10000)" font-size="72.00" fill="#2b2b2b" stroke="#2b2b2b" stroke-width="1.20">5%</text>
<rect x="304.00" y="456.18" width="211.00" height="7.60" fill="#72c67e"/>
<rect x="306.50" y="456.18" width="1.80" height="7.60" fill="#d85f69"/>
<rect x="342.00" y="456.18" width="1.20" height="7.60" fill="#d85f69"/>
<rect x="355.00" y="456.18" width="8.30" height="7.60" fill="#d85f69"/>
<rect x="304.00" y="456.18" width="211.00" height="7.60" fill="url(#stri)"/>
<rect x="304.00" y="456.18" width="211.00" height="0.90" fill="rgba(0,0,0,0.05)"/>
<rect x="304.00" y="462.88" width="211.00" height="0.90" fill="rgba(0,0,0,0.05)"/>
<text transform="translate(260.00 477.60) scale(0.09525 0.10000)" font-size="72.00" fill="#2b2b2b" stroke="#2b2b2b" stroke-width="1.20">Genetic alteration</text>
<rect x="349.50" y="472.50" width="2.30" height="6.30" fill="#c8202e"/>
<text transform="translate(355.00 478.00) scale(0.10000 0.10000)" font-size="72.00" fill="#2b2b2b" stroke="#2b2b2b" stroke-width="1.20">mRNA High</text>
<rect x="402.50" y="472.50" width="2.00" height="6.30" fill="#1d3d7a"/>
<text transform="translate(407.50 478.00) scale(0.09719 0.10000)" font-size="72.00" fill="#2b2b2b" stroke="#2b2b2b" stroke-width="1.20">mRNA Low</text>
<rect x="453.25" y="472.50" width="2.30" height="6.30" fill="#3fae4a"/>
<text transform="translate(458.75 478.00) scale(0.09454 0.10000)" font-size="72.00" fill="#2b2b2b" stroke="#2b2b2b" stroke-width="1.20">No alterations</text>
<text transform="translate(7.80 551.50) scale(0.09386 0.10000)" font-size="126.00" font-weight="bold" stroke="#231f20" stroke-width="3.50">G</text>
<text transform="translate(95.00 564.70) scale(0.09854 0.10000)" font-size="82.00" fill="#2b2b2b" stroke="#2b2b2b" stroke-width="1.20">TCGA dataset</text>
<line x1="78.40" y1="589.90" x2="78.40" y2="646.20" stroke="#3a3a3a" stroke-width="1.2"/>
<line x1="75.10" y1="645.60" x2="78.40" y2="645.60" stroke="#3a3a3a" stroke-width="1"/>
<text transform="translate(72.00 648.20) scale(0.10000 0.10000)" font-size="75.00" text-anchor="end" fill="#2b2b2b" stroke="#2b2b2b" stroke-width="1.20">0</text>
<line x1="75.10" y1="626.97" x2="78.40" y2="626.97" stroke="#3a3a3a" stroke-width="1"/>
<text transform="translate(72.00 629.57) scale(0.10000 0.10000)" font-size="75.00" text-anchor="end" fill="#2b2b2b" stroke="#2b2b2b" stroke-width="1.20">5</text>
<line x1="75.10" y1="608.33" x2="78.40" y2="608.33" stroke="#3a3a3a" stroke-width="1"/>
<text transform="translate(72.00 610.93) scale(0.10000 0.10000)" font-size="75.00" text-anchor="end" fill="#2b2b2b" stroke="#2b2b2b" stroke-width="1.20">10</text>
<line x1="75.10" y1="589.70" x2="78.40" y2="589.70" stroke="#3a3a3a" stroke-width="1"/>
<text transform="translate(72.00 592.30) scale(0.10000 0.10000)" font-size="75.00" text-anchor="end" fill="#2b2b2b" stroke="#2b2b2b" stroke-width="1.20">15</text>
<line x1="77.80" y1="645.60" x2="162.00" y2="645.60" stroke="#3a3a3a" stroke-width="1.3"/>
<line x1="91.00" y1="645.60" x2="91.00" y2="648.50" stroke="#3a3a3a" stroke-width="1"/>
<line x1="119.80" y1="645.60" x2="119.80" y2="648.50" stroke="#3a3a3a" stroke-width="1"/>
<line x1="149.20" y1="645.60" x2="149.20" y2="648.50" stroke="#3a3a3a" stroke-width="1"/>
<text transform="translate(57.25 618.25) rotate(-90) scale(0.07182 0.10000)" font-size="87.00" text-anchor="middle" stroke="#231f20" stroke-width="2.20">Patients number</text>
<rect x="82.05" y="616.00" width="6.95" height="29.60" fill="#c4202e"/>
<rect x="93.00" y="623.40" width="6.90" height="22.20" fill="#134a80"/>
<rect x="111.10" y="626.90" width="6.80" height="18.70" fill="#c4202e"/>
<rect x="121.80" y="638.50" width="7.00" height="7.10" fill="#134a80"/>
<rect x="150.90" y="601.30" width="6.90" height="44.30" fill="#134a80"/>
<path d="M84.3 613.9V605.6H97.3V620.8" fill="none" stroke="#3a3a3a" stroke-width="1.1"/>
<path d="M113.5 625.2V616.5H126.2V636.4" fill="none" stroke="#3a3a3a" stroke-width="1.1"/>
<path d="M143.5 640.4V590.2H155.2V598.4" fill="none" stroke="#3a3a3a" stroke-width="1.1"/>
<circle cx="91.0" cy="598.4" r="0.75" fill="#231f20"/>
<circle cx="119.8" cy="609.6" r="0.75" fill="#231f20"/>
<circle cx="149.2" cy="582.8" r="0.75" fill="#231f20"/>
<text transform="translate(91.25 659.00) scale(0.10000 0.10000)" font-size="76.00" text-anchor="middle" font-style="italic" fill="#2b2b2b" stroke="#2b2b2b" stroke-width="1.20">TP53</text>
<text transform="translate(120.00 659.00) scale(0.10000 0.10000)" font-size="76.00" text-anchor="middle" font-style="italic" fill="#2b2b2b" stroke="#2b2b2b" stroke-width="1.20">KRAS</text>
<text transform="translate(149.25 659.00) scale(0.10000 0.10000)" font-size="76.00" text-anchor="middle" font-style="italic" fill="#2b2b2b" stroke="#2b2b2b" stroke-width="1.20">CEBPA</text>
<text transform="translate(100.00 672.00) scale(0.07423 0.10000)" font-size="84.00" stroke="#231f20" stroke-width="2.20">Mutated genes</text>
<rect x="167.90" y="599.10" width="7.90" height="2.80" fill="#c4202e"/>
<rect x="167.90" y="618.90" width="7.90" height="2.70" fill="#134a80"/>
<text transform="translate(179.10 597.90) scale(0.09236 0.10000)" font-size="65.00" fill="#2b2b2b" stroke="#2b2b2b" stroke-width="1.20">Samples with</text>
<text transform="translate(179.10 605.20) scale(0.09042 0.10000)" font-size="65.00" fill="#2b2b2b" stroke="#2b2b2b" stroke-width="1.20">at least one alteration</text>
<text transform="translate(179.10 617.70) scale(0.09289 0.10000)" font-size="65.00" fill="#2b2b2b" stroke="#2b2b2b" stroke-width="1.20">Samples without</text>
<text transform="translate(179.10 624.60) scale(0.08943 0.10000)" font-size="65.00" fill="#2b2b2b" stroke="#2b2b2b" stroke-width="1.20">any alteration</text>
<circle cx="180.3" cy="633.4" r="0.7" fill="#231f20"/>
<text transform="translate(183.00 636.90) scale(0.10441 0.10000)" font-size="65.00" fill="#2b2b2b" stroke="#2b2b2b" stroke-width="1.20"><tspan font-style="italic">P</tspan>&lt;0.05</text>
<text transform="translate(253.30 549.40) scale(0.09341 0.10000)" font-size="126.00" font-weight="bold" stroke="#231f20" stroke-width="3.50">H</text>
<text transform="translate(349.25 556.00) scale(0.09510 0.10000)" font-size="82.00" fill="#2b2b2b" stroke="#2b2b2b" stroke-width="1.20">Training cohort (TCGA)</text>
<text transform="translate(265.50 566.30) scale(0.10085 0.10000)" font-size="82.00" font-style="italic" fill="#2b2b2b" stroke="#2b2b2b" stroke-width="1.20">IDO1-BIN1-PLXNC1-IKBKB-FOSL1-TLR9-GZMH-GNLY-IFIT2-IFIT3</text>
<line x1="316.60" y1="612.10" x2="428.00" y2="612.10" stroke="#cfcfcf" stroke-width="1"/>
<line x1="316.60" y1="571.75" x2="316.60" y2="646.30" stroke="#3a3a3a" stroke-width="1.2"/>
<line x1="313.10" y1="578.50" x2="316.60" y2="578.50" stroke="#3a3a3a" stroke-width="1"/>
<line x1="313.10" y1="612.10" x2="316.60" y2="612.10" stroke="#3a3a3a" stroke-width="1"/>
<line x1="313.10" y1="645.70" x2="316.60" y2="645.70" stroke="#3a3a3a" stroke-width="1"/>
<line x1="316.00" y1="645.70" x2="428.50" y2="645.70" stroke="#3a3a3a" stroke-width="1.3"/>
<line x1="316.60" y1="645.70" x2="316.60" y2="648.30" stroke="#3a3a3a" stroke-width="1"/>
<line x1="372.30" y1="645.70" x2="372.30" y2="648.30" stroke="#3a3a3a" stroke-width="1"/>
<line x1="428.00" y1="645.70" x2="428.00" y2="648.30" stroke="#3a3a3a" stroke-width="1"/>
<text transform="translate(309.50 581.10) scale(0.10000 0.10000)" font-size="75.00" text-anchor="end" fill="#2b2b2b" stroke="#2b2b2b" stroke-width="1.20">100</text>
<text transform="translate(309.50 614.70) scale(0.10000 0.10000)" font-size="75.00" text-anchor="end" fill="#2b2b2b" stroke="#2b2b2b" stroke-width="1.20">50</text>
<text transform="translate(309.50 648.30) scale(0.10000 0.10000)" font-size="75.00" text-anchor="end" fill="#2b2b2b" stroke="#2b2b2b" stroke-width="1.20">0</text>
<text transform="translate(316.60 658.50) scale(0.10000 0.10000)" font-size="75.00" text-anchor="middle" fill="#2b2b2b" stroke="#2b2b2b" stroke-width="1.20">0</text>
<text transform="translate(372.30 658.50) scale(0.10000 0.10000)" font-size="75.00" text-anchor="middle" fill="#2b2b2b" stroke="#2b2b2b" stroke-width="1.20">5</text>
<text transform="translate(428.00 658.50) scale(0.10000 0.10000)" font-size="75.00" text-anchor="middle" fill="#2b2b2b" stroke="#2b2b2b" stroke-width="1.20">10</text>
<text transform="translate(292.50 609.10) rotate(-90) scale(0.07907 0.10000)" font-size="92.00" text-anchor="middle" stroke="#231f20" stroke-width="1.20">Percent survival</text>
<line x1="420.75" y1="580.50" x2="428.75" y2="580.50" stroke="#134b84" stroke-width="1.6"/>
<line x1="420.75" y1="590.00" x2="428.75" y2="590.00" stroke="#c92333" stroke-width="1.6"/>
<text transform="translate(433.20 583.10) scale(0.09030 0.10000)" font-size="65.00" fill="#2b2b2b" stroke="#2b2b2b" stroke-width="1.20"><tspan font-style="italic">10 DE</tspan> genes sign. <tspan font-size="82.00">&lt;</tspan> median</text>
<text transform="translate(433.20 592.60) scale(0.09030 0.10000)" font-size="65.00" fill="#2b2b2b" stroke="#2b2b2b" stroke-width="1.20"><tspan font-style="italic">10 DE</tspan> genes sign. <tspan font-size="82.00">&gt;</tspan> median</text>
<text transform="translate(370.00 605.20) scale(0.09956 0.10000)" font-size="74.00" fill="#2b2b2b" stroke="#2b2b2b" stroke-width="1.20">X<tspan font-size="45.00" dy="-26.00">2</tspan><tspan dy="26.00">=18, </tspan><tspan font-style="italic">P</tspan>&lt;0.0001</text>
<path d="M316.60 578.50H318.90V580.00H320.75V581.25H322.00V583.10H323.25V586.25H324.50V590.00H327.00V590.60H329.50V591.90H331.40V593.10H333.25V595.00H334.50V596.90H335.75V599.40H337.60V600.60H338.90V602.25H340.75V605.00H342.00V606.50H358.50V606.50H359.25V608.50H365.10V608.50H366.00V610.60H367.60V613.10H425.75" fill="none" stroke="#134b84" stroke-width="1.5" stroke-linejoin="miter"/>
<path d="M316.60 579.75H318.05V580.83H319.50V581.90H320.75V585.60H322.60V593.10H323.90V600.00H325.10V606.25H327.00V613.75H329.50V615.00H331.40V616.90H332.60V620.60H334.50V621.25H338.25V621.25H340.10V622.50H342.00V624.40H343.90V626.90H345.75V628.75H347.00V629.75H359.25V629.75H360.10V631.90H366.00V631.90H367.00V635.00H368.25V639.25H384.25" fill="none" stroke="#c92333" stroke-width="1.5" stroke-linejoin="miter"/>
<text transform="translate(436.25 610.30) scale(0.07078 0.10000)" font-size="63.00" font-weight="bold" text-decoration="underline" stroke="#231f20" stroke-width="3.00">Median OS survival (years)</text>
<text transform="translate(436.25 620.00) scale(0.06570 0.10000)" font-size="64.00" stroke="#231f20" stroke-width="2.20">10 DE genes sign. = 4.6</text>
<text transform="translate(436.25 629.50) scale(0.06570 0.10000)" font-size="64.00" stroke="#231f20" stroke-width="2.20">10 DE genes sign. = 1.0</text>
<text transform="translate(332.50 672.00) scale(0.07518 0.10000)" font-size="84.00" stroke="#231f20" stroke-width="2.20">Overall survival time (years)</text>
<text transform="translate(250.00 684.00) scale(0.07574 0.10000)" font-size="66.00" stroke="#231f20" stroke-width="2.20">Numbers at risk</text>
<text transform="translate(250.00 693.50) scale(0.07348 0.10000)" font-size="66.00" stroke="#231f20" stroke-width="2.20">10 DE genes sign. <tspan font-size="82.00">&lt;</tspan> median</text>
<text transform="translate(250.00 703.00) scale(0.07348 0.10000)" font-size="66.00" stroke="#231f20" stroke-width="2.20">10 DE genes sign. <tspan font-size="82.00">&lt;</tspan> median</text>
<text transform="translate(318.40 693.80) scale(0.10000 0.10000)" font-size="70.00" text-anchor="middle" fill="#2b2b2b" stroke="#2b2b2b" stroke-width="1.20">61</text>
<text transform="translate(318.40 703.30) scale(0.10000 0.10000)" font-size="70.00" text-anchor="middle" fill="#2b2b2b" stroke="#2b2b2b" stroke-width="1.20">62</text>
<text transform="translate(372.60 693.80) scale(0.10000 0.10000)" font-size="70.00" text-anchor="middle" fill="#2b2b2b" stroke="#2b2b2b" stroke-width="1.20">13</text>
<text transform="translate(372.60 703.30) scale(0.10000 0.10000)" font-size="70.00" text-anchor="middle" fill="#2b2b2b" stroke="#2b2b2b" stroke-width="1.20">2</text>
<text transform="translate(428.00 693.80) scale(0.10000 0.10000)" font-size="70.00" text-anchor="middle" fill="#2b2b2b" stroke="#2b2b2b" stroke-width="1.20">0</text>
<text transform="translate(428.00 703.30) scale(0.10000 0.10000)" font-size="70.00" text-anchor="middle" fill="#2b2b2b" stroke="#2b2b2b" stroke-width="1.20">0</text>
<rect x="0" y="0" width="520" height="1.2" fill="#231f20"/><rect x="0" y="0" width="1.2" height="713" fill="#231f20"/><rect x="518.8" y="0" width="1.2" height="713" fill="#231f20"/><rect x="0" y="711.7" width="520" height="1.3" fill="#231f20"/>
</svg>
</body></html>
